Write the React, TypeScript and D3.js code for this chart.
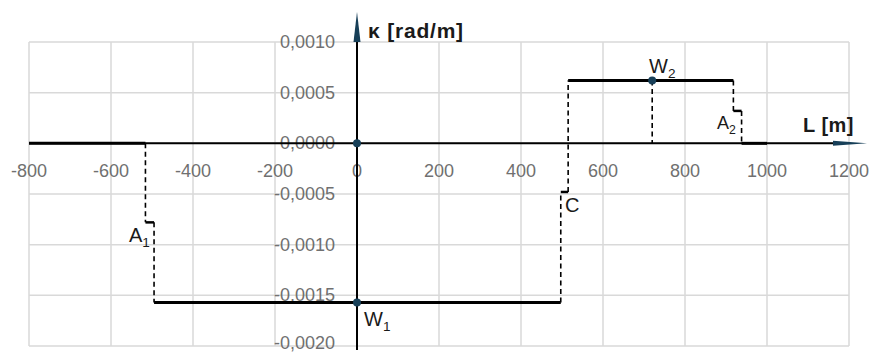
import * as d3 from "d3"
import React, { useRef, useEffect } from 'react';

// axis ticks
const xTicks = [-800, -600, -400, -200, 0, 200, 400, 600, 800, 1000, 1200];
const yTicks = [0.001, 0.0005, 0, -0.0005, -0.001, -0.0015, -0.002];

// flat parts of the curvature diagram (L in m, kappa in rad/m)
const plateauFrom = [-800, -495, 515, 938];
const plateauTo = [-516, 497, 918, 1000];
const plateauK = [0, -0.00157, 0.00062, 0];

// jumps between plateaus: dashed up to the mid point, small step, dashed on
const jumpL1 = [-516, 497, 918];
const jumpL2 = [-495, 515, 938];
const jumpKFrom = [0, -0.00157, 0.00062];
const jumpKMid = [-0.00078, -0.00048, 0.00032];
const jumpKTo = [-0.00157, 0.00062, 0];
const jumpLabel = ["A", "C", "A"];
const jumpSub = ["1", "", "2"];

// marked points
const pointL = [0, 0, 720];
const pointK = [0, -0.00157, 0.00062];
const pointLabel = ["", "W", "W"];
const pointSub = ["", "1", "2"];

const W = 871;
const H = 354;

const Chart: React.FC = () => {
    const svgRef = useRef<SVGSVGElement | null>(null);

    useEffect(() => {
        const svg = d3.select(svgRef.current)
            .attr('width', W)
            .attr('height', H);
        svg.selectAll("*").remove();

        svg.append('rect').attr('width', W).attr('height', H).attr('fill', '#fff');

        const x = d3.scaleLinear().domain([-800, 1200]).range([29, 849]);
        const y = d3.scaleLinear().domain([-0.002, 0.001]).range([346, 42]);

        const font = "'Liberation Sans', Arial, sans-serif";
        const navy = '#173f58';

        // grid
        const grid = svg.append('g').attr('stroke', '#d9d9d9').attr('stroke-width', 1.5);
        grid.selectAll('line.vx').data(xTicks).enter().append('line')
            .attr('x1', d => x(d)).attr('x2', d => x(d))
            .attr('y1', y(0.001)).attr('y2', y(-0.002));
        grid.selectAll('line.hy').data(yTicks).enter().append('line')
            .attr('class', 'hy')
            .attr('x1', x(-800)).attr('x2', x(1200))
            .attr('y1', d => y(d)).attr('y2', d => y(d));

        // tick labels (bottom one nudged up so it stays inside the frame)
        const fmt = d3.format(".4f");
        svg.append('g').selectAll('text').data(yTicks).enter().append('text')
            .attr('x', x(0) - 22)
            .attr('y', d => Math.min(y(d) + 6, 349))
            .attr('text-anchor', 'end')
            .style('font-family', font)
            .style('font-size', '18px')
            .attr('fill', '#707070')
            .text(d => fmt(d).replace('.', ',').replace('\u2212', '-'));

        svg.append('g').selectAll('text').data(xTicks).enter().append('text')
            .attr('x', d => x(d))
            .attr('y', y(0) + 34)
            .attr('text-anchor', 'middle')
            .style('font-family', font)
            .style('font-size', '18px')
            .attr('fill', '#707070')
            .text(d => String(d));

        // axes
        svg.append('line')
            .attr('x1', x(-800)).attr('x2', 840)
            .attr('y1', y(0)).attr('y2', y(0))
            .attr('stroke', '#000').attr('stroke-width', 2);
        svg.append('path')
            .attr('d', `M833,${y(0) - 2.5} L867,${y(0)} L833,${y(0) + 2.5} Z`)
            .attr('fill', navy);
        svg.append('line')
            .attr('x1', x(0)).attr('x2', x(0))
            .attr('y1', 36).attr('y2', 350)
            .attr('stroke', '#000').attr('stroke-width', 2);
        svg.append('path')
            .attr('d', `M${x(0) - 3.5},42 L${x(0)},12 L${x(0) + 3.5},42 Z`)
            .attr('fill', navy);

        // axis titles
        svg.append('text')
            .attr('x', x(0) + 11).attr('y', 38)
            .style('font-family', font).style('font-size', '21px').style('font-weight', 'bold')
            .style('letter-spacing', '0.8px')
            .attr('fill', '#1a1a1a')
            .text('κ [rad/m]');
        svg.append('text')
            .attr('x', 803).attr('y', 132)
            .style('font-family', font).style('font-size', '20px').style('font-weight', 'bold')
            .style('letter-spacing', '0.5px')
            .attr('fill', '#1a1a1a')
            .text('L [m]');

        // dashed jumps
        const jumps = jumpL1.map((l1, i) => ({
            l1, l2: jumpL2[i], k0: jumpKFrom[i], km: jumpKMid[i], k1: jumpKTo[i],
            label: jumpLabel[i], sub: jumpSub[i],
        }));
        const dash = svg.append('g').attr('stroke', '#000').attr('stroke-width', 1.6).attr('stroke-dasharray', '5,3.5');
        jumps.forEach(j => {
            dash.append('line').attr('x1', x(j.l1)).attr('x2', x(j.l1)).attr('y1', y(j.k0)).attr('y2', y(j.km));
            dash.append('line').attr('x1', x(j.l2)).attr('x2', x(j.l2)).attr('y1', y(j.km)).attr('y2', y(j.k1));
        });
        svg.append('g').selectAll('line').data(jumps).enter().append('line')
            .attr('x1', d => x(d.l1)).attr('x2', d => x(d.l2))
            .attr('y1', d => y(d.km)).attr('y2', d => y(d.km))
            .attr('stroke', '#000').attr('stroke-width', 2.5);

        // W2 drop line
        dash.append('line')
            .attr('x1', x(pointL[2])).attr('x2', x(pointL[2]))
            .attr('y1', y(pointK[2])).attr('y2', y(0));

        // plateaus
        svg.append('g').selectAll('line').data(plateauFrom.map((f, i) => ({ f, t: plateauTo[i], k: plateauK[i] })))
            .enter().append('line')
            .attr('x1', d => x(d.f)).attr('x2', d => x(d.t))
            .attr('y1', d => y(d.k)).attr('y2', d => y(d.k))
            .attr('stroke', '#000').attr('stroke-width', 3);

        // points
        svg.append('g').selectAll('circle').data(pointL.map((l, i) => ({ l, k: pointK[i] })))
            .enter().append('circle')
            .attr('cx', d => x(d.l)).attr('cy', d => y(d.k)).attr('r', 4)
            .attr('fill', navy);

        // labels with subscripts
        const addLabel = (px: number, py: number, main: string, sub: string, size: number) => {
            const t = svg.append('text')
                .attr('x', px).attr('y', py)
                .style('font-family', font).style('font-size', `${size}px`)
                .attr('fill', '#1a1a1a');
            t.append('tspan').text(main);
            if (sub) t.append('tspan').attr('dy', size * 0.25).style('font-size', `${size * 0.68}px`).text(sub);
        };
        addLabel(129, 242, jumpLabel[0], jumpSub[0], 20);
        addLabel(565, 212, jumpLabel[1], jumpSub[1], 20);
        addLabel(717, 129, jumpLabel[2], jumpSub[2], 18);
        addLabel(364, 326, pointLabel[1], pointSub[1], 20);
        addLabel(649, 73, pointLabel[2], pointSub[2], 20);
    }, []);

    return <svg ref={svgRef} style={{ display: 'block' }}></svg>;
};

export default function App() {
    return (
        <div style={{ position: 'fixed', left: 0, top: 0 }}>
            <Chart />
        </div>
    );
}
